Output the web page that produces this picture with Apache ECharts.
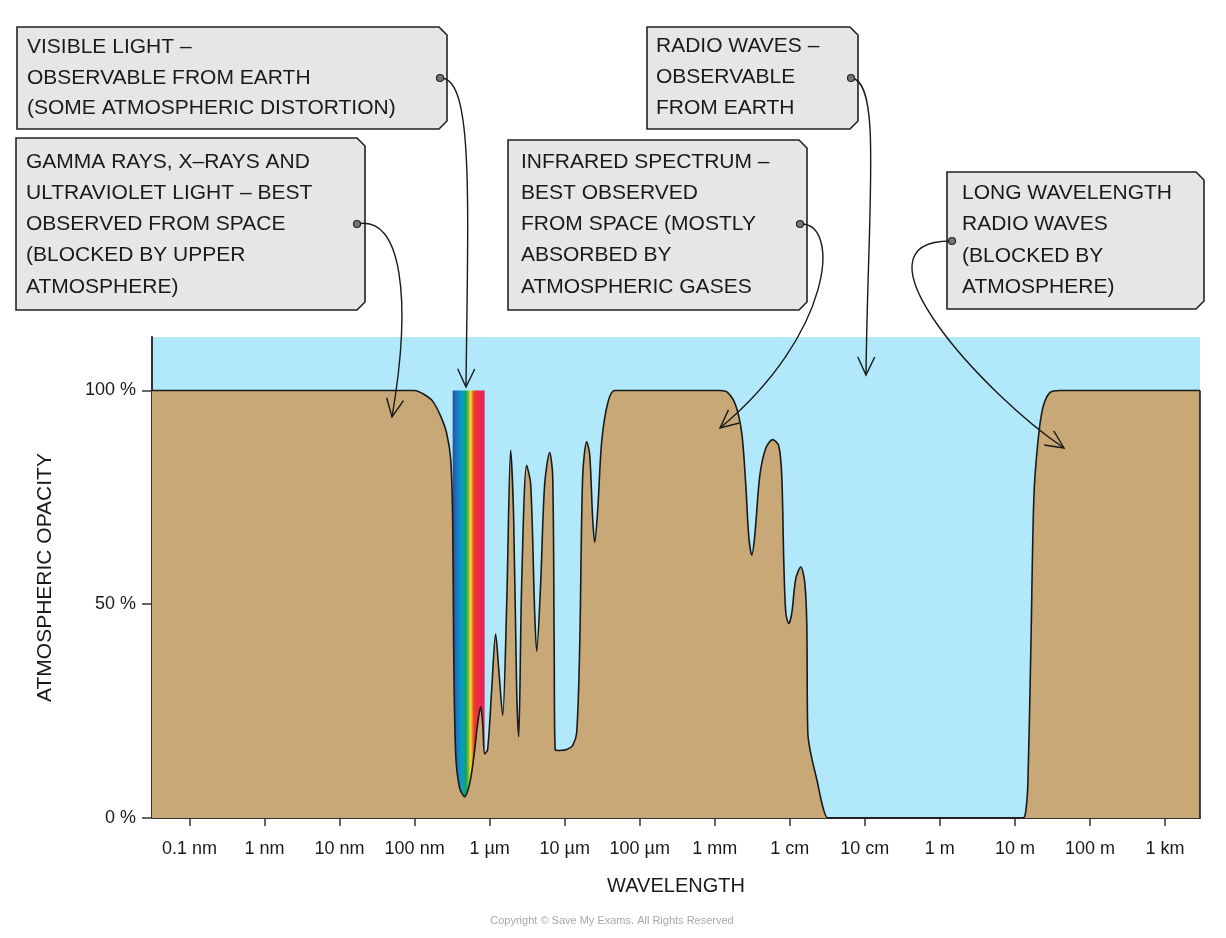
<!DOCTYPE html>
<html>
<head>
<meta charset="utf-8">
<script src="https://cdn.jsdelivr.net/npm/echarts@6/dist/echarts.min.js"></script>
<style>
    html, body { margin: 0; padding: 0; background: #fff; }
    #chart { width: 1226px; height: 938px; }
</style>
</head>
<body>
<div id="chart"></div>
<script>
// x is log10 of the wavelength in metres (0.1 nm = -10, 1 km = 3)
var tickPositions = [-10, -9, -8, -7, -6, -5, -4, -3, -2, -1, 0, 1, 2, 3];
var tickLabels = ['0.1 nm', '1 nm', '10 nm', '100 nm', '1 µm', '10 µm', '100 µm', '1 mm', '1 cm', '10 cm', '1 m', '10 m', '100 m', '1 km'];
var opacityTicks = [0, 50, 100];

// atmospheric opacity curve (%)
var logWavelength = [
    -10.5, -7.2, -7.0, -6.867, -6.76, -6.653, -6.573, -6.52, -6.493, -6.48, -6.453, -6.4, -6.333,
    -6.267, -6.213, -6.16, -6.12, -6.093, -6.067, -6.027, -5.973, -5.92, -5.88, -5.827, -5.773,
    -5.72, -5.68, -5.64, -5.613, -5.573, -5.507, -5.453, -5.4, -5.373, -5.32, -5.267, -5.2, -5.16,
    -5.14, -5.127, -5.067, -4.973, -4.893, -4.84, -4.8, -4.76, -4.707, -4.667, -4.627, -4.6, -4.56,
    -4.507, -4.427, -4.333, -2.933, -2.827, -2.72, -2.64, -2.587, -2.547, -2.507, -2.467, -2.4,
    -2.32, -2.227, -2.147, -2.107, -2.08, -2.053, -2.013, -1.973, -1.92, -1.853, -1.8, -1.773,
    -1.76, -1.64, -1.493, -1.45, 1.107, 1.147, 1.173, 1.213, 1.253, 1.307, 1.373, 1.467, 1.6, 3.467
];
var opacity = [
    100, 100, 100, 99, 97.5, 94, 90, 84, 70, 40, 15, 7, 5,
    8, 14, 22, 26, 22, 15, 16, 30, 43, 35, 24, 50,
    86, 70, 30, 19, 55, 82.5, 78, 48, 39, 55, 78, 85.5, 80,
    40, 16, 15.8, 16, 17, 20, 40, 80, 88, 85, 70, 64.5, 72,
    88, 97, 100, 100, 99.5, 96.5, 90, 78, 66, 61.5, 66, 80,
    86.5, 88.5, 87, 80, 60, 48, 45.5, 48, 56, 58.7, 55, 45,
    20, 9, 0, 0, 0, 2, 8, 40, 75, 88, 96, 99.5, 100, 100
];

// visible light band
var visibleBand = [-6.493, -6.067];

var curveData = logWavelength.map(function (x, i) { return [x, opacity[i]]; });

var myChart = echarts.init(document.getElementById('chart'));

// annotation boxes
var boxes = [
    { x1: 17, y1: 27, x2: 447, y2: 129, tx: 27, ty: 32, lh: 30.5,
      text: 'VISIBLE LIGHT –\nOBSERVABLE FROM EARTH\n(SOME ATMOSPHERIC DISTORTION)' },
    { x1: 16, y1: 138, x2: 365, y2: 310, tx: 26, ty: 146.5, lh: 31.2,
      text: 'GAMMA RAYS, X–RAYS AND\nULTRAVIOLET LIGHT – BEST\nOBSERVED FROM SPACE\n(BLOCKED BY UPPER\nATMOSPHERE)' },
    { x1: 647, y1: 27, x2: 858, y2: 129, tx: 656, ty: 31, lh: 31,
      text: 'RADIO WAVES –\nOBSERVABLE\nFROM EARTH' },
    { x1: 508, y1: 140, x2: 807, y2: 310, tx: 521, ty: 146.5, lh: 31.2,
      text: 'INFRARED SPECTRUM –\nBEST OBSERVED\nFROM SPACE (MOSTLY\nABSORBED BY\nATMOSPHERIC GASES' },
    { x1: 947, y1: 172, x2: 1204, y2: 309, tx: 962, ty: 177.5, lh: 31.3,
      text: 'LONG WAVELENGTH\nRADIO WAVES\n(BLOCKED BY\nATMOSPHERE)' }
];

// arrows: start dot, two control points, tip
var arrows = [
    [440, 78, 474, 76, 468, 200, 466, 387],
    [357, 224, 402, 214, 412, 300, 392, 417],
    [851, 78, 882, 80, 868, 200, 866, 375],
    [800, 224, 842, 222, 832, 335, 720, 428],
    [952, 241, 842, 240, 985, 395, 1064, 448]
];

var graphics = [];
boxes.forEach(function (b) {
    var c = 8;
    graphics.push({
        type: 'polygon', z: 100,
        shape: { points: [[b.x1, b.y1], [b.x2 - c, b.y1], [b.x2, b.y1 + c], [b.x2, b.y2 - c], [b.x2 - c, b.y2], [b.x1, b.y2]] },
        style: { fill: '#e6e6e6', stroke: '#222', lineWidth: 1.6 }
    });
    graphics.push({
        type: 'text', z: 101, x: b.tx, y: b.ty,
        style: { text: b.text, font: '21px "Liberation Sans", Arial, sans-serif', fill: '#1a1a1a', lineHeight: b.lh, verticalAlign: 'top' }
    });
});
arrows.forEach(function (a) {
    graphics.push({
        type: 'bezierCurve', z: 102,
        shape: { x1: a[0], y1: a[1], cpx1: a[2], cpy1: a[3], cpx2: a[4], cpy2: a[5], x2: a[6], y2: a[7] },
        style: { stroke: '#1a1a1a', lineWidth: 1.4, fill: null }
    });
    var ang = Math.atan2(a[7] - a[5], a[6] - a[4]);
    var len = 20, spread = 0.44;
    graphics.push({
        type: 'polyline', z: 102,
        shape: { points: [
            [a[6] - len * Math.cos(ang - spread), a[7] - len * Math.sin(ang - spread)],
            [a[6], a[7]],
            [a[6] - len * Math.cos(ang + spread), a[7] - len * Math.sin(ang + spread)]
        ] },
        style: { stroke: '#1a1a1a', lineWidth: 1.4, fill: null }
    });
    graphics.push({
        type: 'circle', z: 103,
        shape: { cx: a[0], cy: a[1], r: 3.5 },
        style: { fill: '#777', stroke: '#222', lineWidth: 1.2 }
    });
});
graphics.push({
    type: 'text', z: 100, x: 612, y: 921,
    style: { text: 'Copyright © Save My Exams. All Rights Reserved', font: '11px "Liberation Sans", Arial, sans-serif', fill: '#a8a8a8', align: 'center', verticalAlign: 'middle' }
});

var option = {
    animation: false,
    grid: {
        left: 152, right: 26, top: 337, bottom: 120,
        show: true, backgroundColor: '#b1e9fb', borderWidth: 0
    },
    xAxis: {
        type: 'value',
        min: -10.5,
        max: 3.467,
        name: 'WAVELENGTH',
        nameLocation: 'middle',
        nameGap: 58,
        nameTextStyle: { fontSize: 20, color: '#1a1a1a', fontFamily: 'Liberation Sans' },
        axisLine: { onZero: false, lineStyle: { color: '#333', width: 2 } },
        axisTick: { show: true, customValues: tickPositions, length: 8, lineStyle: { color: '#333', width: 1.5 } },
        axisLabel: {
            customValues: tickPositions,
            margin: 22,
            fontSize: 18,
            color: '#1a1a1a',
            fontFamily: 'Liberation Sans',
            formatter: function (v) {
                var i = tickPositions.indexOf(Math.round(v));
                return i >= 0 ? tickLabels[i] : '';
            }
        },
        splitLine: { show: false }
    },
    yAxis: {
        type: 'value',
        min: 0,
        max: 112.5,
        name: 'ATMOSPHERIC OPACITY',
        nameLocation: 'middle',
        nameGap: 96,
        nameTextStyle: { fontSize: 21, color: '#1a1a1a', fontFamily: 'Liberation Sans' },
        axisLine: { show: true, onZero: false, lineStyle: { color: '#333', width: 2 } },
        axisTick: { show: true, customValues: opacityTicks, length: 10, lineStyle: { color: '#333', width: 1.5 } },
        axisLabel: {
            customValues: opacityTicks,
            margin: 16,
            fontSize: 18,
            color: '#1a1a1a',
            fontFamily: 'Liberation Sans',
            formatter: '{value} %'
        },
        splitLine: { show: false }
    },
    series: [
        {
            name: 'visible',
            type: 'line',
            symbol: 'none',
            silent: true,
            lineStyle: { width: 0 },
            areaStyle: {
                opacity: 1,
                color: new echarts.graphic.LinearGradient(0, 0, 1, 0, [
                    { offset: 0, color: '#2d4a9a' },
                    { offset: 0.1, color: '#1d6fb8' },
                    { offset: 0.22, color: '#0f8fcc' },
                    { offset: 0.32, color: '#0aa0b0' },
                    { offset: 0.42, color: '#13a060' },
                    { offset: 0.5, color: '#7dc242' },
                    { offset: 0.55, color: '#ece21e' },
                    { offset: 0.6, color: '#f7a62a' },
                    { offset: 0.66, color: '#ee3e33' },
                    { offset: 0.8, color: '#ea2d45' },
                    { offset: 1, color: '#e8205a' }
                ])
            },
            data: [[visibleBand[0], 100], [visibleBand[1], 100]]
        },
        {
            name: 'opacity',
            type: 'line',
            symbol: 'none',
            smooth: 0.3,
            lineStyle: { color: '#1a1a1a', width: 1.6 },
            areaStyle: { color: '#c9a878', opacity: 1 },
            markLine: {
                silent: true,
                symbol: 'none',
                label: { show: false },
                lineStyle: { color: '#1a1a1a', width: 1.6, type: 'solid' },
                data: [[{ coord: [3.467, 0] }, { coord: [3.467, 100] }]]
            },
            data: curveData
        }
    ],
    graphic: graphics
};

myChart.setOption(option);
</script>
</body>
</html>
